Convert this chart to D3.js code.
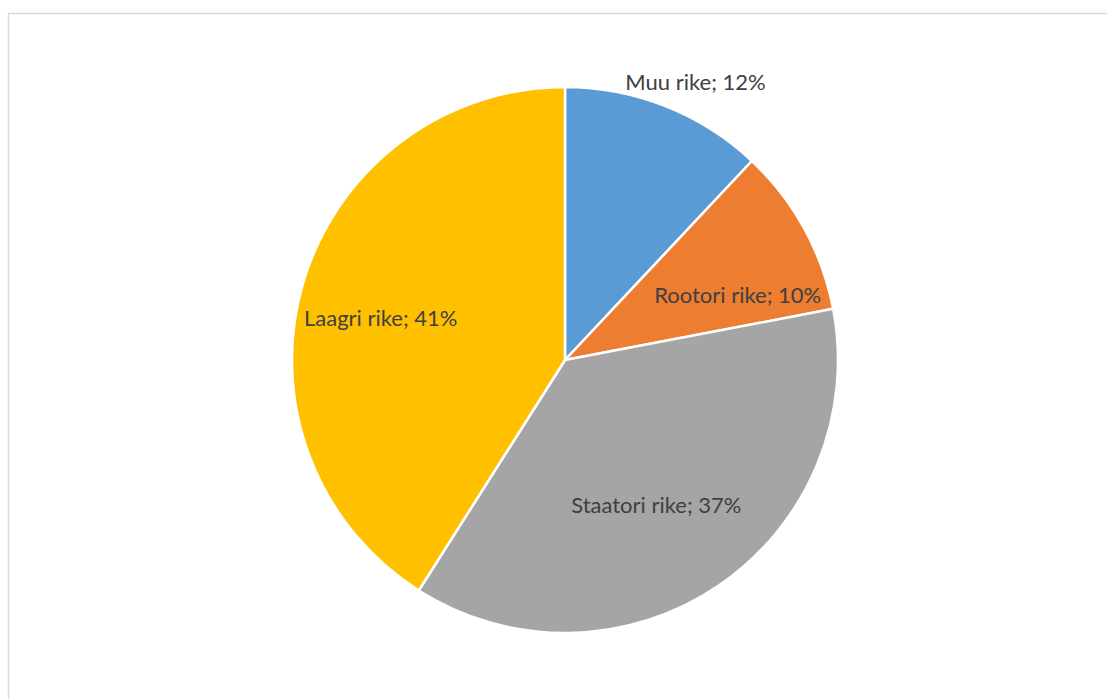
<!DOCTYPE html>
<html>
<head>
<meta charset="utf-8">
<script src="https://cdn.jsdelivr.net/npm/d3@7"></script>
<style>
  body { margin: 0; background: #fff; }
  text { font-family: Lato, "Open Sans", sans-serif; }
</style>
</head>
<body>
<div id="PieChart"></div>
<script>
// Data
const categories = ["Muu rike", "Rootori rike", "Staatori rike", "Laagri rike"];
const shares = [12, 10, 37, 41];
const colours = ["#5B9BD5", "#ED7D31", "#A5A5A5", "#FFC000"];

const width = 1107;
const height = 699;
const radius = 273;
const cx = 565, cy = 360;

const svg = d3.select("#PieChart")
  .append("svg")
  .attr("width", width)
  .attr("height", height);

// chart area frame
svg.append("rect")
  .attr("x", 8.5)
  .attr("y", 13.5)
  .attr("width", width + 10)
  .attr("height", height + 10)
  .attr("fill", "#fff")
  .attr("stroke", "#d9d9d9")
  .attr("stroke-width", 1.5);

const g = svg.append("g")
  .attr("transform", `translate(${cx}, ${cy})`);

const color = d3.scaleOrdinal()
  .domain(categories)
  .range(colours);

const pie = d3.pie()
  .sort(null)
  .value(d => d.value);

const data = categories.map((c, i) => ({ name: c, value: shares[i] }));
const arcsData = pie(data);

const arc = d3.arc()
  .innerRadius(0)
  .outerRadius(radius);

g.selectAll("path")
  .data(arcsData)
  .join("path")
  .attr("d", arc)
  .attr("fill", d => color(d.data.name))
  .attr("stroke", "#fff")
  .attr("stroke-width", 2.5)
  .attr("stroke-linejoin", "round");

// label placement: inside labels on a ring, the small top slice outside
const insideArc = d3.arc().innerRadius(radius * 0.68).outerRadius(radius * 0.68);
const outsideArc = d3.arc().innerRadius(radius * 1.12).outerRadius(radius * 1.12);
const nudge = { "Muu rike": [18, 7], "Rootori rike": [10, 25], "Staatori rike": [-13, -8], "Laagri rike": [-6, 10] };

g.selectAll("text.label")
  .data(arcsData)
  .join("text")
  .attr("class", "label")
  .attr("transform", d => {
    const p = (d.data.name === "Muu rike" ? outsideArc : insideArc).centroid(d);
    const n = nudge[d.data.name];
    return `translate(${p[0] + n[0]}, ${p[1] + n[1]})`;
  })
  .attr("text-anchor", "middle")
  .attr("dy", "0.35em")
  .attr("fill", "#404040")
  .style("font-size", "22px")
  .text(d => `${d.data.name}; ${d.data.value}%`);
</script>
</body>
</html>
